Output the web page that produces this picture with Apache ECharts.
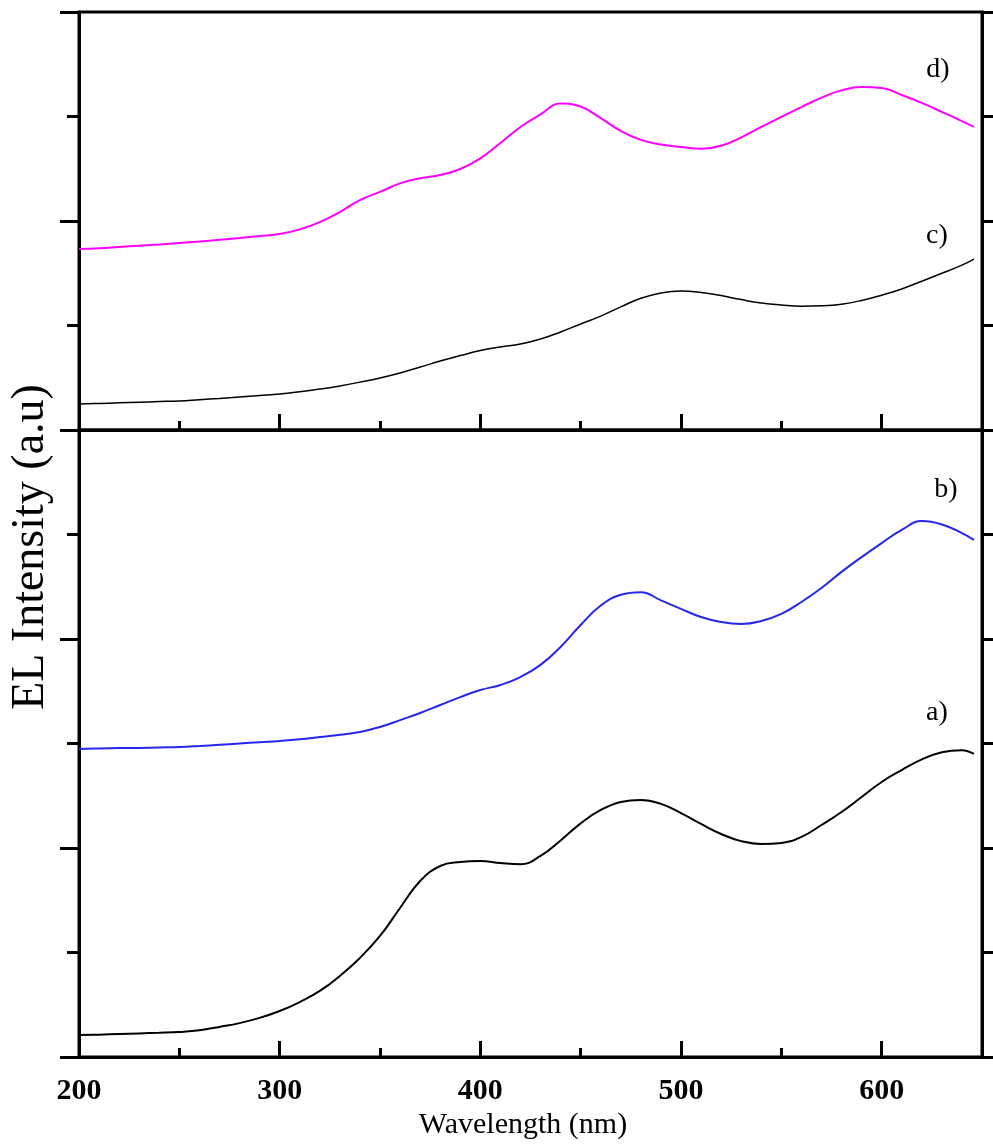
<!DOCTYPE html>
<html>
<head>
<meta charset="utf-8">
<script src="https://cdn.jsdelivr.net/npm/echarts@6/dist/echarts.min.js"></script>
<style>
html, body { margin: 0; padding: 0; background: #fff; }
#chart { width: 993px; height: 1145px; }
</style>
</head>
<body>
<div id="chart"></div>
<script>
// wavelength (nm) sampling, shared by all four spectra
var wavelength = [200, 210, 220, 230, 240, 250, 260, 270, 280, 290,
                  300, 310, 320, 330, 340, 350, 360, 370, 380, 390,
                  400, 410, 420, 430, 440, 450, 460, 470, 480, 490,
                  500, 510, 520, 530, 540, 550, 560, 570, 580, 590,
                  600, 610, 620, 630, 640, 646];

// bottom panel
var curveA = [0.105, 0.107, 0.110, 0.113, 0.116, 0.120, 0.128, 0.144, 0.162, 0.187,
              0.220, 0.263, 0.316, 0.388, 0.474, 0.579, 0.713, 0.842, 0.914, 0.933,
              0.938, 0.928, 0.922, 0.962, 1.036, 1.118, 1.182, 1.220, 1.230, 1.211,
              1.167, 1.115, 1.067, 1.033, 1.019, 1.024, 1.053, 1.110, 1.172, 1.244,
              1.316, 1.373, 1.424, 1.458, 1.468, 1.450];
var curveB = [1.474, 1.476, 1.478, 1.479, 1.481, 1.483, 1.488, 1.494, 1.500, 1.506,
              1.512, 1.520, 1.531, 1.542, 1.555, 1.579, 1.612, 1.646, 1.684, 1.722,
              1.756, 1.780, 1.818, 1.876, 1.962, 2.067, 2.160, 2.212, 2.224, 2.185,
              2.144, 2.105, 2.081, 2.072, 2.086, 2.120, 2.177, 2.244, 2.321, 2.392,
              2.459, 2.522, 2.564, 2.548, 2.507, 2.474];
// top panel
var curveC = [0.124, 0.127, 0.130, 0.133, 0.136, 0.139, 0.145, 0.151, 0.158, 0.165,
              0.172, 0.183, 0.196, 0.211, 0.229, 0.249, 0.273, 0.301, 0.330, 0.356,
              0.380, 0.397, 0.411, 0.435, 0.469, 0.507, 0.545, 0.589, 0.630, 0.656,
              0.665, 0.658, 0.643, 0.624, 0.608, 0.598, 0.592, 0.594, 0.602, 0.620,
              0.645, 0.675, 0.712, 0.750, 0.789, 0.818];
var curveD = [0.866, 0.870, 0.876, 0.882, 0.888, 0.895, 0.902, 0.910, 0.919, 0.928,
              0.938, 0.960, 0.995, 1.043, 1.100, 1.139, 1.180, 1.205, 1.220, 1.249,
              1.300, 1.373, 1.450, 1.510, 1.562, 1.548, 1.492, 1.431, 1.388, 1.366,
              1.354, 1.346, 1.360, 1.400, 1.450, 1.498, 1.545, 1.590, 1.625, 1.641,
              1.636, 1.603, 1.565, 1.522, 1.478, 1.450];

var majorTicks = [200, 300, 400, 500, 600];
var minorTicks = [250, 350, 450, 550, 650];
var curveNames = ['a)', 'b)', 'c)', 'd)'];

function pairs(ys) {
    return wavelength.map(function (x, i) { return [x, ys[i]]; });
}

var serif = 'Liberation Serif, "Times New Roman", serif';
var black = { color: '#000', width: 3 };

// two overlapping x axes per grid: long ticks at the hundreds, short ones in between
function xAxes(g, withLabel) {
    return [{
        type: 'value', gridIndex: g, min: 200, max: 650, position: 'bottom',
        axisLine: { show: true, onZero: false, lineStyle: black },
        axisTick: { show: true, inside: true, length: 16, customValues: majorTicks, lineStyle: black },
        axisLabel: {
            show: withLabel, customValues: majorTicks, margin: 19,
            fontFamily: serif, fontWeight: 'bold', fontSize: 30, color: '#000'
        },
        splitLine: { show: false }
    }, {
        type: 'value', gridIndex: g, min: 200, max: 650, position: 'bottom',
        axisLine: { show: false },
        axisTick: { show: true, inside: true, length: 9, customValues: minorTicks, lineStyle: black },
        axisLabel: { show: false },
        splitLine: { show: false }
    }];
}

function yAxes(g, maxV) {
    return ['left', 'right'].map(function (pos) {
        return {
            type: 'value', gridIndex: g, position: pos, min: 0, max: maxV, interval: 1,
            axisLine: { show: true, onZero: false, lineStyle: black },
            axisTick: { show: true, inside: false, length: 19, lineStyle: black },
            minorTick: { show: true, splitNumber: 2, length: 12, lineStyle: black },
            axisLabel: { show: false },
            splitLine: { show: false },
            minorSplitLine: { show: false }
        };
    });
}

function spectrum(name, ys, xi, yi, color, width) {
    return {
        name: name, type: 'line', xAxisIndex: xi, yAxisIndex: yi,
        data: pairs(ys), showSymbol: false, smooth: 0.45,
        lineStyle: { color: color, width: width },
        silent: true
    };
}

function tag(text, x, y, size, rot) {
    return {
        type: 'text', x: x, y: y, rotation: rot || 0,
        style: {
            text: text, fill: '#000', font: size + 'px ' + serif,
            align: 'center', verticalAlign: 'middle'
        }
    };
}

var dom = document.getElementById('chart');
var myChart = echarts.init(dom);
myChart.setOption({
    animation: false,
    backgroundColor: '#fff',
    grid: [
        { left: 79, right: 11, top: 12, height: 418, containLabel: false, outerBoundsMode: 'none',
          show: true, borderColor: '#000', borderWidth: 3 },
        { left: 79, right: 11, top: 430, height: 627, containLabel: false, outerBoundsMode: 'none',
          show: true, borderColor: '#000', borderWidth: 3 }
    ],
    xAxis: xAxes(0, false).concat(xAxes(1, true)),
    yAxis: yAxes(0, 2).concat(yAxes(1, 3)),
    series: [
        spectrum(curveNames[0], curveA, 2, 2, '#000', 2),
        spectrum(curveNames[1], curveB, 2, 2, '#2626ee', 2),
        spectrum(curveNames[2], curveC, 0, 0, '#000', 1.5),
        spectrum(curveNames[3], curveD, 0, 0, '#f0f', 2)
    ],
    graphic: [
        tag('EL Intensity (a.u)', 31, 547, 46, Math.PI / 2),
        tag('Wavelength (nm)', 523, 1125, 30),
        tag(curveNames[3], 938, 70, 28),
        tag(curveNames[2], 937, 236, 28),
        tag(curveNames[1], 946, 490, 28),
        tag(curveNames[0], 937, 713, 28)
    ]
});
window.addEventListener('resize', function () {
    myChart.resize();
});
</script>
</body>
</html>
